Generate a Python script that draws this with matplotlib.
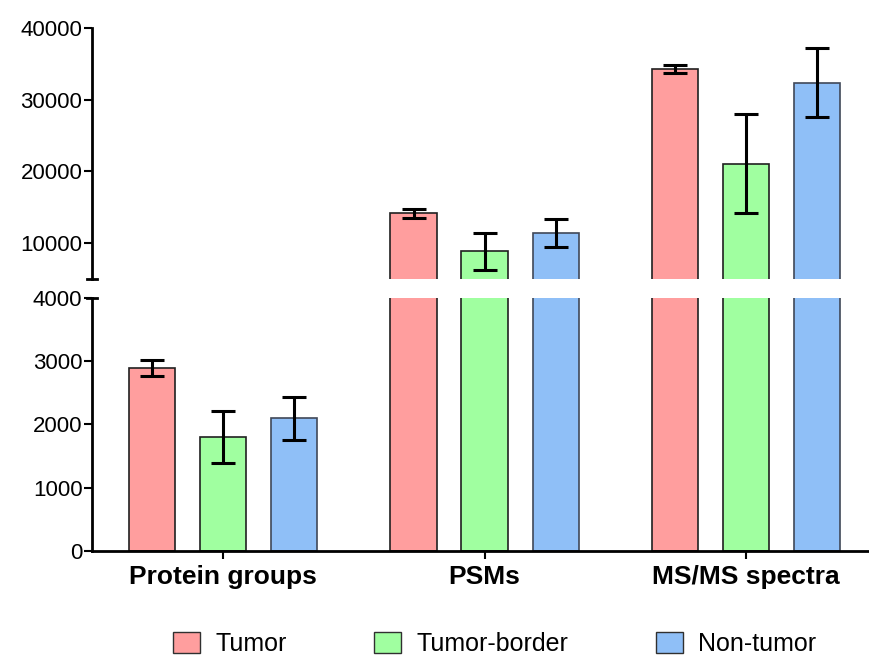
import numpy as np
import matplotlib.pyplot as plt
from matplotlib.patches import Patch

plt.rcParams['font.family'] = ['Liberation Sans', 'DejaVu Sans']

categories = ['Protein groups', 'PSMs', 'MS/MS spectra']
groups = ['Tumor', 'Tumor-border', 'Non-tumor']
colors = ['#FF9E9E', '#A0FFA0', '#8FBFF7']
edges = ['#202020', '#202020', '#404858']

# mean and SD per group, one entry per category
tumor = [2890, 14150, 34330]
tumor_sd = [127, 620, 580]
border = [1800, 8870, 21100]
border_sd = [417, 2580, 6930]
nontumor = [2095, 11430, 32400]
nontumor_sd = [338, 1930, 4770]

means = [tumor, border, nontumor]
sds = [tumor_sd, border_sd, nontumor_sd]

fig = plt.figure(figsize=(8.69, 6.56), dpi=100)
ax_top = fig.add_axes([0.106, 0.575, 0.894, 0.382])
ax_bot = fig.add_axes([0.106, 0.160, 0.894, 0.386])

x = np.arange(len(categories))
width = 0.177
offset = 0.272

for ax in (ax_top, ax_bot):
    for i in range(3):
        pos = x + (i - 1) * offset
        ax.bar(pos, means[i], width, color=colors[i], edgecolor=edges[i],
               linewidth=1.2, zorder=2)
        ax.errorbar(pos, means[i], yerr=sds[i], fmt='none', ecolor='black',
                    elinewidth=2.2, capsize=8.5, capthick=2.2, zorder=3)
    ax.set_xlim(-0.502, 2.471)
    for s in ('right', 'top'):
        ax.spines[s].set_visible(False)
    ax.spines['left'].set_linewidth(2)
    ax.tick_params(axis='y', labelsize=16, width=1.5, length=6, pad=1)

ax_top.set_ylim(5000, 40000)
ax_top.set_yticks([10000, 20000, 30000, 40000])
ax_top.spines['bottom'].set_visible(False)
ax_top.set_xticks([])

ax_bot.set_ylim(0, 4000)
ax_bot.set_yticks([0, 1000, 2000, 3000, 4000])
ax_bot.spines['bottom'].set_linewidth(2)
ax_bot.set_xticks(x)
ax_bot.set_xticklabels(categories, fontsize=19, fontweight='bold')
ax_bot.tick_params(axis='x', width=1.5, length=6, pad=4)

# break marks at the ends of the split y axis
for ax, yv in ((ax_top, 0), (ax_bot, 1)):
    ax.plot([-0.006, 0.006], [yv, yv], transform=ax.transAxes,
            color='black', lw=2, clip_on=False)

handles = [Patch(facecolor=c, edgecolor='#303030', linewidth=1) for c in colors]
fig.legend(handles, groups, loc='center', bbox_to_anchor=(0.569, 0.018),
           ncol=3, frameon=False, fontsize=18, handlelength=1.08,
           handleheight=0.9, handletextpad=0.6, columnspacing=3.5)

fig.savefig('out.png', dpi=100)
